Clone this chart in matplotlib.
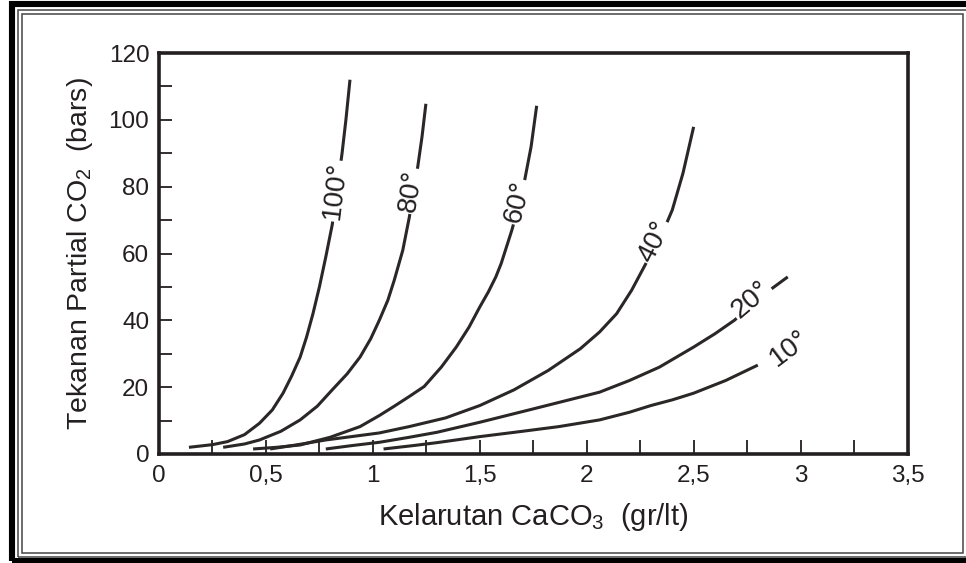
import matplotlib
matplotlib.use('Agg')
import matplotlib.pyplot as plt
from matplotlib.patches import Rectangle
from matplotlib.ticker import MultipleLocator, FuncFormatter

plt.rcParams['font.family'] = ['Liberation Sans', 'DejaVu Sans']
plt.rcParams['mathtext.default'] = 'regular'

# solubility curves (x: gr/lt CaCO3, y: bars CO2)
t100_x = [0.14, 0.25, 0.32, 0.40, 0.47, 0.53, 0.58, 0.62, 0.66, 0.69, 0.72,
          0.75, 0.78, 0.81, 0.835, 0.856, 0.874, 0.893]
t100_y = [2.0, 2.8, 3.7, 5.8, 9.2, 13.2, 18.2, 23.3, 29, 35, 42,
          50, 59, 68.6, 80, 90, 100, 112]

t80_x = [0.30, 0.40, 0.47, 0.57, 0.66, 0.74, 0.81, 0.88, 0.94, 0.99, 1.03,
         1.07, 1.10, 1.14, 1.17, 1.19, 1.21, 1.23, 1.248]
t80_y = [2.0, 3.0, 4.2, 6.8, 10.2, 14.3, 19.2, 24, 29, 34.5, 40,
         46, 52, 61, 70.7, 78, 86, 95, 104.8]

t60_x = [0.44, 0.55, 0.66, 0.80, 0.94, 1.03, 1.10, 1.17, 1.24, 1.32, 1.39,
         1.45, 1.50, 1.54, 1.575, 1.60, 1.625, 1.65, 1.68, 1.71, 1.74, 1.766]
t60_y = [1.5, 2.0, 2.7, 5.0, 8.2, 11.5, 14.3, 17.2, 20.2, 26, 32,
         38, 44, 48.5, 53, 57, 62, 67, 74, 82, 92, 104.2]

t40_x = [0.52, 0.65, 0.78, 0.90, 1.03, 1.17, 1.34, 1.50, 1.66, 1.82, 1.97,
         2.06, 2.14, 2.21, 2.26, 2.31, 2.36, 2.40, 2.45, 2.50]
t40_y = [1.5, 2.8, 4.2, 5.2, 6.3, 8.2, 10.8, 14.5, 19.2, 25, 31.5,
         36.5, 42, 49, 55, 61, 67, 73, 84, 97.9]

t20_x = [0.78, 0.90, 1.03, 1.17, 1.30, 1.50, 1.75, 2.06, 2.20, 2.34, 2.50,
         2.60, 2.69, 2.78, 2.87, 2.94]
t20_y = [1.5, 2.5, 3.5, 5.0, 6.5, 9.5, 13.5, 18.5, 22, 26, 32,
         36, 40, 45, 49.7, 53]

t10_x = [1.05, 1.20, 1.30, 1.50, 1.70, 1.87, 2.06, 2.20, 2.30, 2.40, 2.50,
         2.65, 2.80]
t10_y = [1.5, 2.6, 3.4, 5.2, 6.8, 8.2, 10.2, 12.5, 14.5, 16.2, 18.2,
         22, 26.6]

curve_labels = ['100°', '80°', '60°', '40°', '20°', '10°']
label_x = [0.827, 1.18, 1.68, 2.32, 2.77, 2.95]
label_y = [78.7, 78.7, 75.4, 63.5, 46, 31.4]
label_rot = [83, 81, 76, 63, 40, 37]

W, H = 966, 563
ink = '#231f20'

fig = plt.figure(figsize=(W / 100, H / 100), dpi=100)
fig.patch.set_facecolor('white')


def px_rect(x0, y0, x1, y1, lw, color):
    r = Rectangle((x0 / W, 1 - y1 / H), (x1 - x0) / W, (y1 - y0) / H,
                  transform=fig.transFigure, fill=False, lw=lw, ec=color,
                  clip_on=False)
    fig.add_artist(r)


# picture frame
px_rect(12, 3.5, 995, 561, 4.4, 'black')
px_rect(17.5, 10, 967, 556.5, 1.1, '#444444')
px_rect(21.5, 13.5, 963, 553, 1.1, '#444444')

ax = fig.add_axes([159 / W, 1 - 454 / H, (907.5 - 159) / W, (454 - 53) / H])

for xs, ys in [(t100_x, t100_y), (t80_x, t80_y), (t60_x, t60_y),
               (t40_x, t40_y), (t20_x, t20_y), (t10_x, t10_y)]:
    ax.plot(xs, ys, color='#2b2727', lw=2.2, solid_capstyle='butt',
            solid_joinstyle='round')

for txt, lx, ly, rot in zip(curve_labels, label_x, label_y, label_rot):
    ax.text(lx, ly, txt, rotation=rot, rotation_mode='anchor',
            ha='center', va='center', fontsize=20, color=ink,
            bbox=dict(facecolor='white', edgecolor='none', pad=1.5))

ax.set_xlim(0, 3.5)
ax.set_ylim(0, 120)
ax.xaxis.set_major_locator(MultipleLocator(0.5))
ax.xaxis.set_minor_locator(MultipleLocator(0.25))
ax.yaxis.set_major_locator(MultipleLocator(20))
ax.yaxis.set_minor_locator(MultipleLocator(10))
comma = FuncFormatter(lambda v, p: ('%g' % v).replace('.', ','))
ax.xaxis.set_major_formatter(comma)
ax.yaxis.set_major_formatter(comma)

ax.tick_params(axis='x', which='both', direction='in', length=10, width=1.3,
               color=ink, pad=8)
ax.tick_params(axis='y', which='both', direction='in', length=9, width=1.3,
               color=ink, pad=7)
ax.tick_params(labelsize=17.5, labelcolor=ink)
for s in ax.spines.values():
    s.set_linewidth(2.6)
    s.set_color(ink)

ax.set_xlabel('Kelarutan CaCO$_3$  (gr/lt)', fontsize=21, color=ink)
ax.set_ylabel('Tekanan Partial CO$_2$  (bars)', fontsize=20.5, color=ink)
ax.xaxis.set_label_coords(0.5, -0.118)
ax.yaxis.set_label_coords(-0.086, 0.5)

fig.savefig('out.png', dpi=100)
